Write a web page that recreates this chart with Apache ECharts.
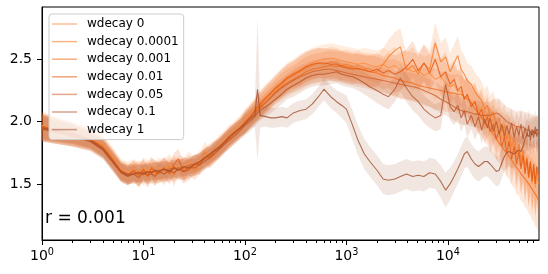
<!DOCTYPE html>
<html>
<head>
<meta charset="utf-8">
<script src="https://cdn.jsdelivr.net/npm/echarts@6/dist/echarts.min.js"></script>
<style>html,body{margin:0;padding:0;background:#fff}#c{width:548px;height:274px}</style>
</head>
<body>
<div id="c"></div>
<script>
// training steps (x)
const steps = [1,2,3,4,5,6,7,8,9,10,11,12,13,14,
  16,18,20,22,25,28,
  32,36,40,45,50,56,63,70,80,90,
  100,112,125,133,141,160,180,200,230,260,
  300,350,400,460,530,600,700,800,900,1000,
  1150,1300,1500,1700,2000,2300,2600,3000,3400,3900,
  4500,5100,5800,6600,7500,8500,9500,10500,11500,12500,
  13500,14500,15500,17000,18500,20000,21500,23000,24500,26000,
  28000,30000,32000,34000,36000,38000,40000,42500,45000,47500,
  50000,52500,55000,57500,60000,62500,65000,67500,70000,72500,
  75000,78000];

const wdecay0 = [1.97,1.91,1.87,1.81,1.71,1.62,1.60,1.62,1.58,1.63,1.60,1.64,1.58,1.63,
  1.61,1.66,1.60,1.65,1.62,1.68,
  1.64,1.69,1.70,1.75,1.77,1.81,1.85,1.89,1.93,1.97,
  2.01,2.06,2.10,2.13,2.15,2.20,2.24,2.28,2.32,2.36,
  2.39,2.42,2.45,2.47,2.49,2.50,2.51,2.50,2.49,2.48,
  2.47,2.46,2.47,2.45,2.44,2.46,2.43,2.45,2.41,2.43,
  2.40,2.41,2.37,2.39,2.34,2.36,2.31,2.28,2.30,2.24,
  2.25,2.18,2.21,2.14,2.16,2.08,2.12,2.03,2.07,1.98,
  2.02,1.92,1.97,1.86,1.92,1.81,1.87,1.76,1.82,1.70,
  1.78,1.65,1.73,1.60,1.68,1.55,1.64,1.50,1.60,1.47,
  1.56,1.50];

const wdecay0_0001 = [1.95,1.89,1.85,1.79,1.69,1.59,1.57,1.60,1.56,1.61,1.57,1.62,1.57,1.61,
  1.58,1.64,1.57,1.63,1.59,1.65,
  1.61,1.66,1.76,1.70,1.74,1.79,1.83,1.87,1.91,1.95,
  1.99,2.04,2.08,2.11,2.13,2.18,2.22,2.26,2.30,2.34,
  2.37,2.40,2.43,2.45,2.47,2.46,2.48,2.47,2.45,2.46,
  2.44,2.45,2.43,2.42,2.40,2.46,2.52,2.57,2.60,2.41,
  2.45,2.38,2.47,2.42,2.63,2.48,2.52,2.40,2.47,2.53,
  2.42,2.38,2.33,2.30,2.24,2.20,2.17,2.10,2.13,2.04,
  2.08,1.98,2.03,1.92,1.97,1.86,1.92,1.80,1.87,1.74,
  1.82,1.69,1.77,1.64,1.72,1.59,1.68,1.55,1.64,1.52,
  1.60,1.55];

const wdecay0_001 = [1.96,1.90,1.86,1.80,1.70,1.61,1.58,1.58,1.60,1.57,1.60,1.58,1.61,1.59,
  1.62,1.59,1.64,1.61,1.63,1.62,
  1.65,1.67,1.70,1.73,1.76,1.80,1.84,1.88,1.92,1.96,
  2.00,2.04,2.08,2.10,2.12,2.16,2.20,2.24,2.28,2.31,
  2.34,2.37,2.40,2.42,2.43,2.44,2.45,2.44,2.45,2.44,
  2.43,2.42,2.42,2.40,2.39,2.37,2.36,2.35,2.33,2.32,
  2.31,2.29,2.28,2.27,2.26,2.25,2.24,2.23,2.23,2.22,
  2.22,2.20,2.18,2.15,2.10,2.07,2.03,2.00,1.97,1.94,
  1.90,1.86,1.83,1.80,1.77,1.75,1.72,1.69,1.66,1.63,
  1.61,1.58,1.56,1.54,1.52,1.50,1.48,1.46,1.44,1.42,
  1.40,1.37];

const wdecay0_01 = [1.95,1.89,1.84,1.78,1.68,1.60,1.57,1.61,1.57,1.62,1.56,1.63,1.60,1.58,
  1.63,1.58,1.66,1.70,1.60,1.61,
  1.66,1.65,1.71,1.72,1.76,1.78,1.83,1.86,1.91,1.94,
  1.99,2.03,2.09,2.12,2.14,2.19,2.23,2.27,2.31,2.35,
  2.38,2.41,2.44,2.46,2.47,2.47,2.46,2.46,2.44,2.43,
  2.42,2.43,2.41,2.40,2.42,2.39,2.41,2.38,2.40,2.44,
  2.50,2.41,2.47,2.39,2.50,2.36,2.40,2.30,2.34,2.25,
  2.28,2.18,2.22,2.12,2.16,2.05,2.10,1.98,2.04,1.92,
  1.98,1.86,1.93,1.80,1.88,1.75,1.84,1.70,1.80,1.66,
  1.76,1.62,1.73,1.58,1.70,1.55,1.68,1.52,1.66,1.50,
  1.64,1.58];

const wdecay0_05 = [1.96,1.91,1.86,1.79,1.69,1.60,1.58,1.59,1.58,1.60,1.59,1.60,1.60,1.61,
  1.61,1.62,1.62,1.63,1.63,1.65,
  1.66,1.68,1.70,1.73,1.76,1.79,1.83,1.87,1.91,1.95,
  1.99,2.03,2.06,2.09,2.11,2.15,2.19,2.23,2.27,2.30,
  2.33,2.36,2.38,2.40,2.41,2.42,2.42,2.41,2.40,2.39,
  2.38,2.37,2.36,2.35,2.34,2.33,2.32,2.31,2.30,2.29,
  2.28,2.27,2.25,2.23,2.21,2.18,2.16,2.14,2.12,2.10,
  2.09,2.08,2.08,2.07,2.06,2.06,2.05,2.05,2.05,2.05,
  2.06,2.07,2.06,2.04,2.02,2.00,1.99,1.98,1.97,1.96,
  1.96,1.95,1.96,1.94,1.95,1.93,1.94,1.92,1.93,1.91,
  1.92,1.90];

const wdecay0_1 = [1.94,1.88,1.84,1.77,1.67,1.59,1.56,1.58,1.55,1.59,1.57,1.58,1.56,1.60,
  1.58,1.61,1.59,1.62,1.60,1.63,
  1.63,1.66,1.68,1.71,1.74,1.78,1.82,1.85,1.89,1.93,
  1.97,2.00,2.04,2.07,2.09,2.12,2.15,2.18,2.22,2.26,
  2.29,2.32,2.35,2.37,2.38,2.38,2.39,2.40,2.38,2.37,
  2.36,2.34,2.31,2.28,2.25,2.22,2.20,2.26,2.35,2.27,
  2.20,2.16,2.10,2.06,2.03,2.05,2.30,2.12,2.08,2.13,
  2.03,2.09,1.98,2.05,1.96,2.04,1.93,2.02,1.95,2.03,
  1.92,2.00,1.90,1.98,1.88,1.97,1.90,1.99,1.87,1.96,
  1.89,1.98,1.86,1.95,1.88,1.97,1.85,1.94,1.87,1.96,
  1.88,1.92];

const wdecay1 = [1.95,1.90,1.85,1.78,1.68,1.60,1.57,1.58,1.59,1.58,1.60,1.59,1.61,1.60,
  1.62,1.60,1.63,1.61,1.64,1.63,
  1.66,1.68,1.71,1.74,1.77,1.80,1.84,1.88,1.92,1.95,
  1.98,2.02,2.05,2.26,2.05,2.04,2.03,2.03,2.04,2.03,
  2.07,2.09,2.10,2.14,2.20,2.26,2.20,2.16,2.13,2.10,
  1.97,1.85,1.74,1.68,1.61,1.54,1.53,1.54,1.56,1.58,
  1.56,1.57,1.56,1.59,1.58,1.52,1.45,1.50,1.56,1.62,
  1.68,1.74,1.76,1.70,1.66,1.64,1.66,1.68,1.68,1.66,
  1.63,1.60,1.61,1.67,1.72,1.75,1.76,1.75,1.74,1.76,
  1.77,1.76,1.80,1.86,1.90,1.88,1.92,1.89,1.93,1.90,
  1.94,1.92];

// half-widths of the shaded bands
const spreadOrange = [0.11,0.09,0.08,0.08,0.08,0.08,0.08,0.08,0.09,0.08,0.09,0.08,0.09,0.08,
  0.09,0.08,0.09,0.08,0.09,0.08,
  0.08,0.08,0.08,0.08,0.08,0.08,0.08,0.08,0.08,0.08,
  0.09,0.09,0.09,0.10,0.10,0.10,0.10,0.10,0.11,0.11,
  0.11,0.12,0.12,0.12,0.12,0.12,0.12,0.12,0.12,0.12,
  0.12,0.12,0.12,0.13,0.13,0.13,0.14,0.15,0.15,0.14,
  0.15,0.14,0.15,0.15,0.17,0.15,0.16,0.15,0.15,0.16,
  0.15,0.15,0.14,0.15,0.15,0.16,0.15,0.16,0.16,0.17,
  0.16,0.17,0.16,0.18,0.17,0.19,0.18,0.20,0.19,0.21,
  0.20,0.22,0.21,0.23,0.22,0.24,0.23,0.25,0.24,0.26,
  0.25,0.26];

const spreadBrown = [0.10,0.08,0.07,0.07,0.07,0.07,0.07,0.07,0.07,0.07,0.07,0.07,0.07,0.07,
  0.07,0.07,0.07,0.07,0.07,0.07,
  0.07,0.07,0.07,0.07,0.07,0.07,0.07,0.07,0.07,0.07,
  0.08,0.08,0.08,0.08,0.08,0.08,0.08,0.08,0.08,0.08,
  0.09,0.09,0.09,0.09,0.09,0.09,0.09,0.09,0.09,0.09,
  0.09,0.09,0.09,0.09,0.10,0.10,0.10,0.10,0.11,0.11,
  0.11,0.11,0.11,0.11,0.11,0.11,0.11,0.11,0.11,0.11,
  0.11,0.11,0.11,0.11,0.11,0.11,0.11,0.11,0.11,0.11,
  0.12,0.12,0.12,0.12,0.12,0.12,0.12,0.12,0.12,0.12,
  0.13,0.13,0.13,0.13,0.13,0.13,0.13,0.13,0.13,0.13,
  0.13,0.13];

const spreadW1 = [0.10,0.08,0.07,0.07,0.07,0.07,0.07,0.07,0.07,0.07,0.07,0.07,0.07,0.07,
  0.07,0.07,0.07,0.07,0.07,0.07,
  0.07,0.07,0.07,0.07,0.07,0.07,0.07,0.07,0.07,0.07,
  0.08,0.08,0.09,0.57,0.10,0.08,0.08,0.08,0.08,0.08,
  0.08,0.08,0.08,0.08,0.08,0.09,0.09,0.09,0.10,0.11,
  0.12,0.12,0.12,0.12,0.12,0.12,0.12,0.12,0.12,0.12,
  0.12,0.12,0.12,0.12,0.12,0.13,0.14,0.13,0.12,0.12,
  0.12,0.12,0.12,0.12,0.12,0.12,0.12,0.12,0.12,0.12,
  0.12,0.12,0.12,0.12,0.12,0.12,0.12,0.12,0.12,0.12,
  0.12,0.12,0.12,0.12,0.12,0.12,0.12,0.12,0.12,0.12,
  0.12,0.12];

const seriesNames = ['wdecay 0','wdecay 0.0001','wdecay 0.001','wdecay 0.01','wdecay 0.05','wdecay 0.1','wdecay 1'];
const seriesValues = [wdecay0, wdecay0_0001, wdecay0_001, wdecay0_01, wdecay0_05, wdecay0_1, wdecay1];
const seriesSpreads = [spreadOrange, spreadOrange, spreadOrange, spreadOrange, spreadBrown, spreadBrown, spreadW1];
const majorTicks = [1, 10, 100, 1000, 10000];
const minorTicks = [2,3,4,5,6,7,8,9,20,30,40,50,60,70,80,90,200,300,400,500,600,700,800,900,
  2000,3000,4000,5000,6000,7000,8000,9000,20000,30000,40000,50000,60000,70000];
const yTicks = [1.5, 2.0, 2.5];
const annotation = 'r = 0.001';

const rgb = [[253,141,60],[248,122,38],[241,105,19],[228,88,18],[205,95,45],[180,85,45],[160,78,42]];
const X_MAX = 79000;
const FONT = 'DejaVu Sans';

const chart = echarts.init(document.getElementById('c'), null, {renderer:'canvas'});
const series = [];
seriesValues.forEach((vals, k) => {
  const sp = seriesSpreads[k];
  const c = rgb[k];
  series.push({
    type: 'custom', name: 'band' + k, coordinateSystem: 'cartesian2d', xAxisIndex: 0, yAxisIndex: 0,
    silent: true, z: 1, data: [[steps[0], vals[0]]],
    renderItem: function(params, api) {
      const pts = [];
      for (let i = 0; i < steps.length; i++) pts.push(api.coord([steps[i], vals[i] + sp[i]]));
      for (let i = steps.length - 1; i >= 0; i--) pts.push(api.coord([steps[i], vals[i] - sp[i]]));
      const cs = params.coordSys;
      return {type: 'polygon', shape: {points: pts},
        style: {fill: `rgba(${c[0]},${c[1]},${c[2]},${k === 6 ? 0.14 : 0.16})`, stroke: null},
        clipPath: {type: 'rect', shape: {x: cs.x, y: cs.y, width: cs.width, height: cs.height}}};
    }
  });
});
seriesValues.forEach((vals, k) => {
  const c = rgb[k];
  series.push({
    type: 'line', name: seriesNames[k], xAxisIndex: 0, yAxisIndex: 0, z: 3,
    data: steps.map((s, i) => [s, vals[i]]), symbol: 'none', showSymbol: false,
    lineStyle: {width: 1.1, color: `rgba(${c[0]},${c[1]},${c[2]},0.8)`},
    itemStyle: {color: `rgba(${c[0]},${c[1]},${c[2]},0.55)`},
    emphasis: {disabled: true}, clip: true
  });
});

const logMax = Math.log10(X_MAX);
chart.setOption({
  animation: false,
  backgroundColor: '#fff',
  textStyle: {fontFamily: FONT},
  grid: {left: 42, right: 9, top: 7, bottom: 34, show: true, borderColor: '#000', borderWidth: 1, backgroundColor: 'transparent'},
  legend: {
    data: seriesNames, orient: 'vertical', left: 49, top: 14, icon: 'rect',
    padding: [4, 5, 4, 3], itemGap: 5.6, itemWidth: 25, itemHeight: 1.5,
    backgroundColor: 'rgba(255,255,255,0.8)', borderColor: '#cccccc', borderWidth: 1, borderRadius: 3,
    textStyle: {fontFamily: FONT, fontSize: 12, color: '#000', padding: [0, 0, 0, 5]},
    selectedMode: false, z: 10
  },
  xAxis: [
    {type: 'log', logBase: 10, min: 1, max: X_MAX, show: false, gridIndex: 0},
    {type: 'value', min: 0, max: logMax, position: 'bottom', gridIndex: 0,
      axisLine: {show: true, onZero: false, lineStyle: {color: '#000', width: 1}},
      axisTick: {show: true, length: 5, customValues: majorTicks.map(v => Math.log10(v)), lineStyle: {color: '#000', width: 1}},
      axisLabel: {show: true, margin: 7, customValues: majorTicks.map(v => Math.log10(v)),
        formatter: v => '{b|10}{s|' + Math.round(v) + '}',
        rich: {b: {fontFamily: FONT, fontSize: 14, color: '#000'}, s: {fontFamily: FONT, fontSize: 9.7, color: '#000', padding: [0, 0, 9, 0]}}},
      splitLine: {show: false}},
    {type: 'value', min: 0, max: logMax, position: 'bottom', gridIndex: 0,
      axisLine: {show: false, onZero: false},
      axisTick: {show: true, length: 3, customValues: minorTicks.map(v => Math.log10(v)), lineStyle: {color: '#000', width: 1}},
      axisLabel: {show: false}, splitLine: {show: false}}
  ],
  yAxis: [{type: 'value', min: 1.05, max: 2.92, gridIndex: 0,
    axisLine: {show: true, lineStyle: {color: '#000', width: 1}},
    axisTick: {show: true, length: 5, customValues: yTicks, lineStyle: {color: '#000', width: 1}},
    axisLabel: {show: true, margin: 10, customValues: yTicks, formatter: v => v.toFixed(1), fontFamily: FONT, fontSize: 14, color: '#000'},
    splitLine: {show: false}}],
  graphic: [{type: 'text', left: 45, top: 210, z: 100,
    style: {text: annotation, font: '17px "DejaVu Sans"', fill: '#000'}}],
  series: series
});
</script>
</body>
</html>
